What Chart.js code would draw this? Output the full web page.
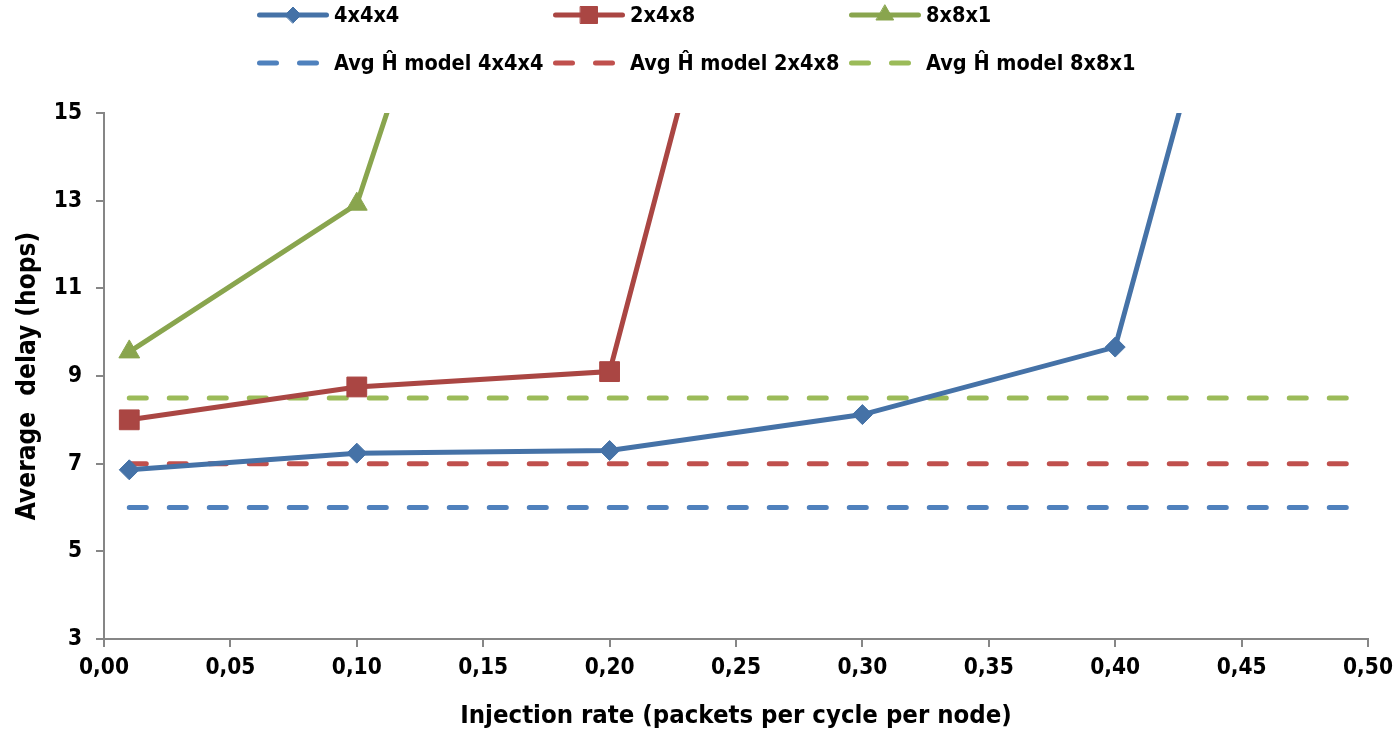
<!DOCTYPE html>
<html>
<head>
<meta charset="utf-8">
<script src="https://cdn.jsdelivr.net/npm/chart.js@4.4.1/dist/chart.umd.min.js"></script>
<style>
  html, body { margin: 0; padding: 0; background: #ffffff; }
  #wrap { width: 1394px; height: 736px; }
</style>
</head>
<body>
<div id="wrap"><canvas id="chart" width="1394" height="736"></canvas></div>
<script>
// Measured average delay (hops) versus injection rate for three topologies
const rates4x4x4 = [0.01, 0.10, 0.20, 0.30, 0.40, 0.50];
const delay4x4x4 = [6.86, 7.24, 7.30, 8.12, 9.66, 30.8];

const rates2x4x8 = [0.01, 0.10, 0.20, 0.30];
const delay2x4x8 = [8.00, 8.75, 9.10, 31.0];

const rates8x8x1 = [0.01, 0.10, 0.20];
const delay8x8x1 = [9.55, 12.92, 30.4];

// Analytical average hop count (Ĥ) per topology, constant over the rate range
const modelRange = [0.01, 0.50];
const model4x4x4 = [6.0, 6.0];
const model2x4x8 = [7.0, 7.0];
const model8x8x1 = [8.5, 8.5];

const seriesNames = ['4x4x4', '2x4x8', '8x8x1'];
const modelNames = ['Avg Ĥ model 4x4x4', 'Avg Ĥ model 2x4x8', 'Avg Ĥ model 8x8x1'];

const xAxisRange = [0, 0.5, 0.05];
const yAxisRange = [3, 15, 2];

const FONT = "'DejaVu Sans Condensed', 'Noto Sans', sans-serif";

function toPoints(xs, ys) {
  return xs.map((x, i) => ({ x: x, y: ys[i] }));
}

function measuredSeries(label, xs, ys, color, style, radius, legendRadius) {
  return {
    label: label,
    data: toPoints(xs, ys),
    borderColor: color,
    backgroundColor: color,
    borderWidth: 5,
    pointStyle: style,
    pointRadius: radius,
    pointHoverRadius: radius,
    pointBackgroundColor: color,
    pointBorderColor: color,
    pointBorderWidth: 1,
    legendRadius: legendRadius,
    tension: 0
  };
}

function modelSeries(label, ys, color) {
  return {
    label: label,
    data: toPoints(modelRange, ys),
    borderColor: color,
    backgroundColor: color,
    borderWidth: 5,
    borderDash: [17, 23],
    borderCapStyle: 'round',
    pointRadius: 0,
    pointHoverRadius: 0,
    tension: 0
  };
}

// Legend laid out as a fixed 3-column grid above the plot
const gridLegend = {
  id: 'gridLegend',
  afterDraw(chart, args, opts) {
    const ctx = chart.ctx;
    chart.data.datasets.forEach((ds, i) => {
      const col = i % opts.columns;
      const row = Math.floor(i / opts.columns);
      const x0 = opts.left + col * opts.colWidth;
      const y = opts.top + row * opts.rowHeight;
      ctx.save();
      ctx.strokeStyle = ds.borderColor;
      ctx.lineWidth = ds.borderWidth;
      ctx.lineCap = 'round';
      ctx.setLineDash(ds.borderDash || []);
      ctx.beginPath();
      ctx.moveTo(x0 + 2.5, y);
      ctx.lineTo(x0 + opts.sampleWidth - 2.5, y);
      ctx.stroke();
      ctx.setLineDash([]);
      if (ds.pointRadius > 0) {
        ctx.fillStyle = ds.pointBackgroundColor;
        ctx.strokeStyle = ds.pointBorderColor;
        ctx.lineWidth = ds.pointBorderWidth;
        Chart.helpers.drawPoint(ctx, {
          pointStyle: ds.pointStyle,
          radius: ds.legendRadius,
          rotation: 0,
          borderWidth: ds.pointBorderWidth
        }, x0 + opts.sampleWidth / 2, y);
      }
      ctx.fillStyle = '#000000';
      ctx.font = opts.font;
      ctx.textAlign = 'left';
      ctx.textBaseline = 'middle';
      ctx.fillText(ds.label, x0 + opts.sampleWidth + opts.gap, y + 1);
      ctx.restore();
    });
  }
};

const axisGray = '#868686';

new Chart(document.getElementById('chart'), {
  type: 'line',
  data: {
    datasets: [
      measuredSeries(seriesNames[0], rates4x4x4, delay4x4x4, '#4572A7', 'rectRot', 10, 8),
      measuredSeries(seriesNames[1], rates2x4x8, delay2x4x8, '#AA4643', 'rect', 14, 12),
      measuredSeries(seriesNames[2], rates8x8x1, delay8x8x1, '#89A54E', 'triangle', 12, 10),
      modelSeries(modelNames[0], model4x4x4, '#4F81BD'),
      modelSeries(modelNames[1], model2x4x8, '#C0504D'),
      modelSeries(modelNames[2], model8x8x1, '#9BBB59')
    ]
  },
  options: {
    responsive: false,
    animation: false,
    devicePixelRatio: 1,
    layout: { padding: { top: 113, right: 26, left: 0, bottom: 0 } },
    plugins: {
      legend: { display: false },
      tooltip: { enabled: false },
      gridLegend: {
        columns: 3,
        left: 257,
        colWidth: 296,
        top: 15,
        rowHeight: 48,
        sampleWidth: 72,
        gap: 5,
        font: 'bold 21.5px ' + FONT
      }
    },
    scales: {
      x: {
        type: 'linear',
        min: xAxisRange[0],
        max: xAxisRange[1],
        afterFit(scale) {
          scale.height = 97;
          scale.paddingLeft = 0;
          scale.paddingRight = 0;
        },
        ticks: {
          stepSize: xAxisRange[2],
          padding: 8,
          color: '#000000',
          font: { family: FONT, size: 22.5, weight: 'bold' },
          maxRotation: 0,
          callback: (v) => v.toFixed(2).replace('.', ',')
        },
        grid: { drawOnChartArea: false, drawTicks: true, tickLength: 8, color: axisGray, lineWidth: 2 },
        border: { display: true, color: axisGray, width: 2 },
        title: {
          display: true,
          text: 'Injection rate (packets per cycle per node)',
          color: '#000000',
          font: { family: FONT, size: 25.5, weight: 'bold' },
          padding: { top: 0, bottom: 4 }
        }
      },
      y: {
        type: 'linear',
        min: yAxisRange[0],
        max: yAxisRange[1],
        afterFit(scale) { scale.width = 104; },
        ticks: {
          stepSize: yAxisRange[2],
          padding: 14,
          color: '#000000',
          font: { family: FONT, size: 22.5, weight: 'bold' }
        },
        grid: { drawOnChartArea: false, drawTicks: true, tickLength: 8, color: axisGray, lineWidth: 2 },
        border: { display: true, color: axisGray, width: 2 },
        title: {
          display: true,
          text: 'Average  delay (hops)',
          color: '#000000',
          font: { family: FONT, size: 26, weight: 'bold' },
          padding: { top: 13, bottom: 0 }
        }
      }
    }
  },
  plugins: [gridLegend]
});
</script>
</body>
</html>
